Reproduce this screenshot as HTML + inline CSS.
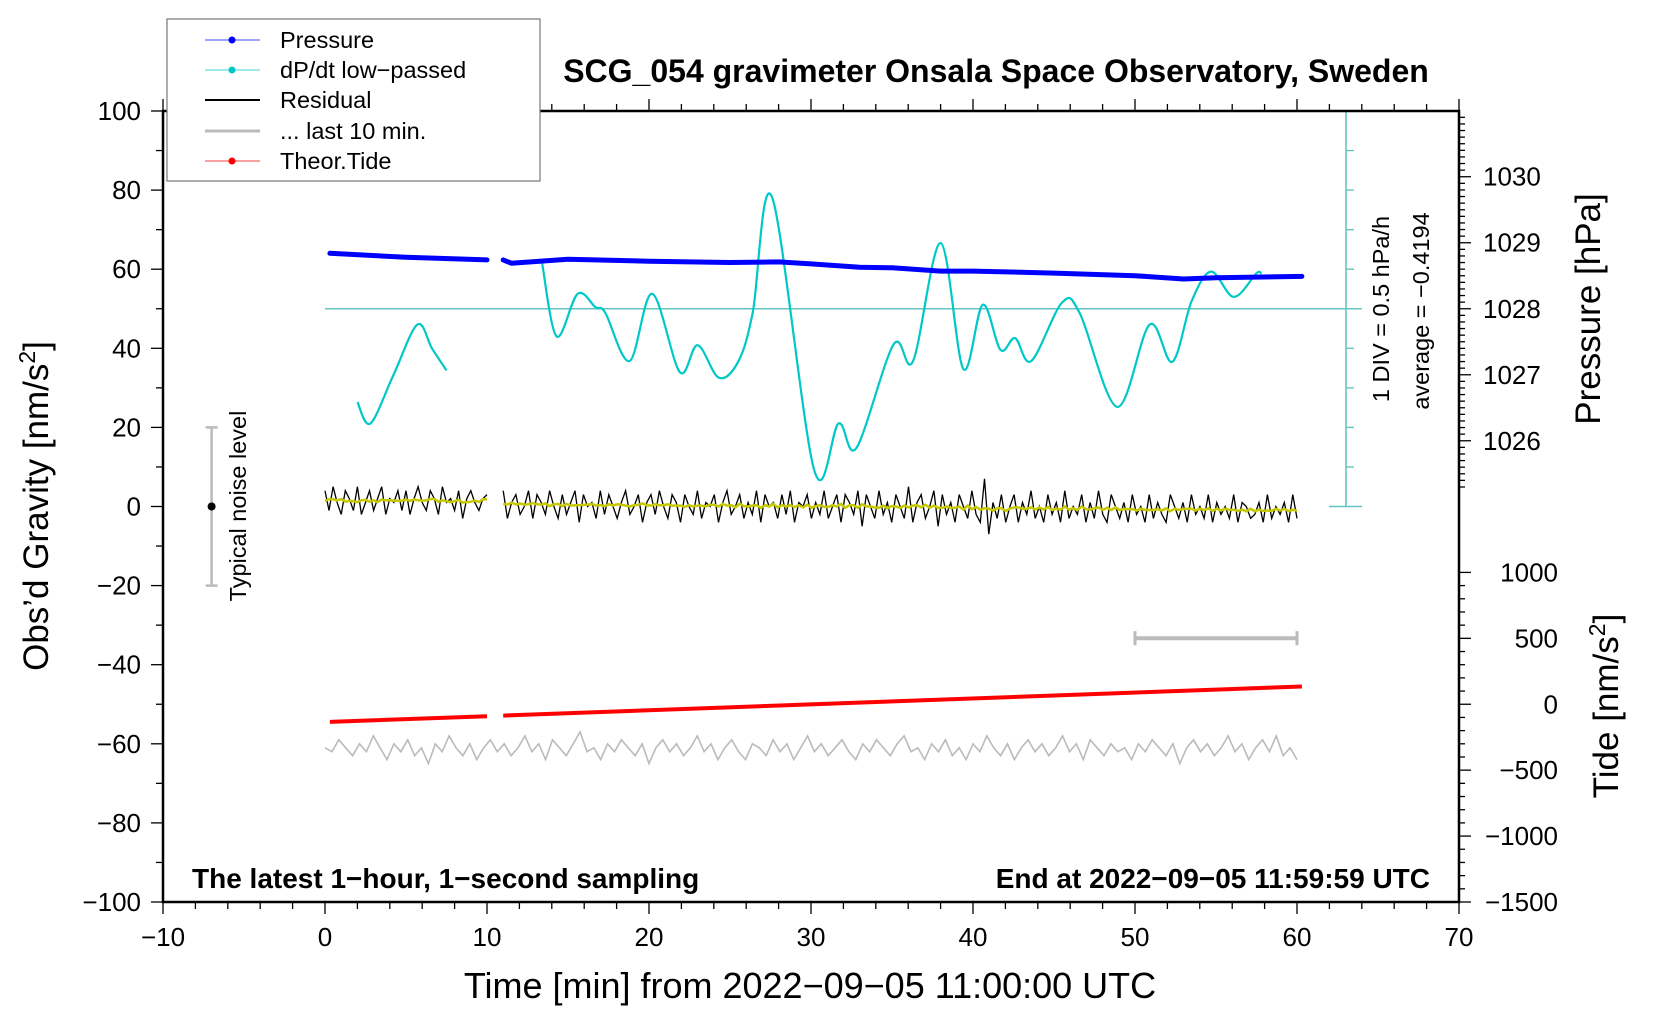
<!DOCTYPE html>
<html><head><meta charset="utf-8">
<style>
html,body{margin:0;padding:0;background:#fff;}
svg{display:block;font-family:"Liberation Sans",sans-serif;}
</style></head>
<body>
<svg id="chart" width="1660" height="1020" viewBox="0 0 1660 1020" xmlns="http://www.w3.org/2000/svg">
<rect width="1660" height="1020" fill="#fff"/>
<g id="marks"></g>
<g id="axes"></g>
<text x="996" y="82" font-size="32" font-weight="bold" text-anchor="middle">SCG_054 gravimeter Onsala Space Observatory, Sweden</text>
<text x="192" y="888" font-size="28" font-weight="bold">The latest 1−hour, 1−second sampling</text>
<text x="1430" y="888" font-size="28" font-weight="bold" text-anchor="end">End at 2022−09−05 11:59:59 UTC</text>
<text x="810" y="998" font-size="36" text-anchor="middle">Time [min] from 2022−09−05 11:00:00 UTC</text>
<text transform="translate(48,506) rotate(-90)" font-size="35" text-anchor="middle">Obs’d Gravity [nm/s<tspan font-size="23" dy="-13">2</tspan><tspan dy="13">]</tspan></text>
<text transform="translate(1600,309) rotate(-90)" font-size="35" text-anchor="middle">Pressure [hPa]</text>
<text transform="translate(1618,706) rotate(-90)" font-size="35" text-anchor="middle">Tide [nm/s<tspan font-size="23" dy="-13">2</tspan><tspan dy="13">]</tspan></text>
<text transform="translate(1389,309) rotate(-90)" font-size="23.5" text-anchor="middle">1 DIV = 0.5 hPa/h</text>
<text transform="translate(1429,311) rotate(-90)" font-size="23.5" text-anchor="middle">average = −0.4194</text>
<text transform="translate(246,506) rotate(-90)" font-size="23.5" text-anchor="middle">Typical noise level</text>
<g>
<rect x="167" y="19" width="373" height="162" fill="#fff" stroke="#777" stroke-width="1.2"/>
<g><line x1="205" y1="40" x2="260" y2="40" stroke="#00f" stroke-width="0.8"/><circle cx="232" cy="40" r="3.5" fill="#00f"/><text x="280" y="48" font-size="23.5">Pressure</text></g>
<g><line x1="205" y1="70" x2="260" y2="70" stroke="#00c8c8" stroke-width="0.8"/><circle cx="232" cy="70" r="3.5" fill="#00c8c8"/><text x="280" y="78" font-size="23.5">dP/dt low−passed</text></g>
<g><line x1="205" y1="100" x2="260" y2="100" stroke="#000" stroke-width="2"/><text x="280" y="108" font-size="23.5">Residual</text></g>
<g><line x1="205" y1="131" x2="260" y2="131" stroke="#bbb" stroke-width="3"/><text x="280" y="139" font-size="23.5">... last 10 min.</text></g>
<g><line x1="205" y1="161" x2="260" y2="161" stroke="#f00" stroke-width="0.8"/><circle cx="232" cy="161" r="3.5" fill="#f00"/><text x="280" y="169" font-size="23.5">Theor.Tide</text></g>
</g>
</svg>
<script>
// ---- data ----
const xTicks=[-10,0,10,20,30,40,50,60,70];
const yTicks=[100,80,60,40,20,0,-20,-40,-60,-80,-100];
const pTicks=[1030,1029,1028,1027,1026];
const tideTicks=[1000,500,0,-500,-1000,-1500];
const pressT=[0.3,5,10,11,11.5,15,20,25,28,30,33,35,38,40,45,50,53,55,60.3];
const pressV=[1028.84,1028.78,1028.74,1028.74,1028.69,1028.75,1028.72,1028.70,1028.71,1028.68,1028.63,1028.62,1028.57,1028.57,1028.54,1028.50,1028.45,1028.47,1028.49];
const dpT1=[2,2.8,4.2,5.7,6.6,7.5];
const dpV1=[-1.60,-1.87,-1.27,-0.62,-0.92,-1.20];
const dpT2=[13.4,14.3,15.6,16.7,17.3,18.8,20.2,21.9,23,24.3,25.5,26.4,27.6,30.2,31.7,32.8,35.1,36.3,38,39.4,40.6,41.7,42.6,43.6,45.5,46.6,48.9,50.9,52.3,53.5,54.7,56.1,57.5,57.8];
const dpV2=[0.16,-0.77,-0.23,-0.40,-0.47,-1.08,-0.23,-1.22,-0.88,-1.29,-1.09,-0.47,0.99,-2.46,-1.87,-2.18,-0.87,-1.08,0.41,-1.18,-0.37,-0.94,-0.79,-1.08,-0.34,-0.48,-1.66,-0.62,-1.09,-0.32,0.05,-0.27,0.03,0.02];
const dpAvg=-0.4194;
const resRangeA=[0,10];
const resA=[3,-2,4,0,-3,3,1,-2,4,-3,0,3,-2,1,4,-3,1,0,3,-2,3,-3,1,4,0,-2,3,1,-3,4,0,1,-2,3,-4,1,3,0,-2,1,2];
const resRangeB=[11,60];
const resB=[4,-3,1,3,-2,0,4,-3,3,1,-2,4,0,-3,3,-2,1,4,-4,3,0,1,-3,4,-2,3,0,-3,1,4,-2,0,3,-4,1,3,-2,4,0,-3,
3,1,-4,3,0,-2,4,-3,1,0,3,-4,1,4,-2,0,3,-3,1,-2,4,-4,3,0,1,-3,3,-2,4,-4,1,0,3,-3,1,-2,4,-3,0,3,
-4,3,1,-2,4,-5,3,0,-3,4,-2,1,-4,3,0,-3,5,-4,1,3,-3,0,4,-5,3,-2,1,-4,3,0,-3,4,-2,-4,7,-7,1,-3,3,-4,
0,3,-4,1,-2,4,-3,0,-4,3,-2,1,-4,4,-3,0,-2,3,-4,1,-3,4,-2,-4,3,0,-3,1,-4,3,-2,0,-4,3,-3,1,-2,-4,3,
0,-3,1,-4,3,-2,0,-3,3,-4,1,-2,0,-3,3,-4,1,0,-3,-2,1,-4,3,-3,0,-2,1,-4,3,-3];
const lastRange=[0,60];
const lastV=[-61,-62,-59,-61,-63,-60,-62,-58,-61,-64,-60,-62,-59,-63,-61,-65,-60,-62,-58,-61,-63,-60,-64,-61,-59,-62,-60,-63,-61,-58,
-62,-60,-64,-59,-61,-63,-60,-57,-62,-61,-64,-60,-62,-59,-61,-63,-60,-65,-61,-59,-62,-60,-63,-61,-58,-62,-60,-64,-61,-59,
-62,-64,-60,-61,-63,-59,-62,-60,-64,-61,-58,-62,-60,-63,-61,-59,-62,-64,-60,-62,-59,-61,-63,-60,-58,-62,-61,-64,-60,-62,
-59,-63,-61,-64,-60,-62,-58,-61,-63,-60,-64,-61,-59,-62,-60,-63,-61,-58,-62,-60,-64,-59,-61,-63,-60,-62,-61,-64,-60,-62,
-59,-61,-63,-60,-65,-61,-59,-62,-60,-63,-61,-58,-62,-60,-64,-61,-59,-62,-58,-63,-61,-64];
const tideT1=[0.3,10], tideV1=[-134,-91];
const tideT2=[11,60.3], tideV2=[-86,135];
const noiseBar=[-7,-20,20];
const scaleBar=[50,60,-33.3];

// ---- axes functions ----
const X=t=>163+(t+10)*16.2;
const Y=g=>111+(100-g)*3.955;
const pToG=p=>50+(p-1028)*16.69;
const dpToG=v=>50+(v-dpAvg)/0.05;
const tideToG=v=>-50+v/30;
const NS='http://www.w3.org/2000/svg';
const marks=document.getElementById('marks'), axes=document.getElementById('axes');
function mk(tag,attrs,parent){const e=document.createElementNS(NS,tag);for(const k in attrs)e.setAttribute(k,attrs[k]);(parent||marks).appendChild(e);return e;}
function poly(pts){return pts.map(p=>p[0].toFixed(1)+','+p[1].toFixed(1)).join(' ');}
function smooth(pts){let d='M'+pts[0][0]+','+pts[0][1];for(let i=0;i<pts.length-1;i++){const p0=pts[Math.max(0,i-1)],p1=pts[i],p2=pts[i+1],p3=pts[Math.min(pts.length-1,i+2)];
d+=' C'+(p1[0]+(p2[0]-p0[0])/6).toFixed(1)+','+(p1[1]+(p2[1]-p0[1])/6).toFixed(1)+' '+(p2[0]-(p3[0]-p1[0])/6).toFixed(1)+','+(p2[1]-(p3[1]-p1[1])/6).toFixed(1)+' '+p2[0].toFixed(1)+','+p2[1].toFixed(1);}return d;}

let e;
e=mk('line',{x1:X(0),y1:Y(50),x2:1362,y2:Y(50),stroke:'#66c4c0','stroke-width':1.6});


e=mk('line',{x1:1346,y1:Y(100),x2:1346,y2:Y(0),stroke:'#66c4c0','stroke-width':1.6});


for(let g=0;g<=100;g+=10){const cap=(g===0||g===100);const t=mk('line',{x1:cap?1329:1346,y1:Y(g),x2:cap?1362:1354,y2:Y(g),stroke:'#66c4c0','stroke-width':1.4});

}

[[tideT1,tideV1],[tideT2,tideV2]].forEach(([T,V])=>{const l=mk('polyline',{points:poly(T.map((t,i)=>[X(t),Y(tideToG(V[i]))])),fill:'none',stroke:'#f00','stroke-width':4});

});

{const n=lastV.length;const pts=lastV.map((v,i)=>[X(lastRange[0]+(lastRange[1]-lastRange[0])*i/(n-1)),Y(v)]);
const l=mk('polyline',{points:poly(pts),fill:'none',stroke:'#bbb','stroke-width':1.6});

}

[[resRangeA,resA,1],[resRangeB,resB,0]].forEach(([R,V,off])=>{const n=V.length;const pts=V.map((v,i)=>[X(R[0]+(R[1]-R[0])*i/(n-1)),Y(v+off)]);
const l=mk('polyline',{points:poly(pts),fill:'none',stroke:'#000','stroke-width':1.3});


const sm=V.map((v,i)=>{let s=0,c=0;for(let k=i-4;k<=i+4;k++)if(k>=0&&k<n){s+=V[k];c++;}return [pts[i][0],Y(s/c+off)];});
const y=mk('polyline',{points:poly(sm),fill:'none',stroke:'#c8c800','stroke-width':2.5});

});

[[dpT1,dpV1],[dpT2,dpV2]].forEach(([T,V])=>{const p=mk('path',{d:smooth(T.map((t,i)=>[X(t),Y(dpToG(V[i]))])),fill:'none',stroke:'#00c8c8','stroke-width':2.2});

});

[[0,3],[3,pressT.length]].forEach(([a,b])=>{const pts=[];for(let i=a;i<b;i++)pts.push([X(pressT[i]),Y(pToG(pressV[i]))]);
const l=mk('polyline',{points:poly(pts),fill:'none',stroke:'#00f','stroke-width':5,'stroke-linecap':'round','stroke-linejoin':'round'});

});

{const x=X(noiseBar[0]);const g=mk('g',{stroke:'#bbb','stroke-width':2.5});


mk('line',{x1:x,y1:Y(noiseBar[2]),x2:x,y2:Y(noiseBar[1])},g);
mk('line',{x1:x-6,y1:Y(noiseBar[2]),x2:x+6,y2:Y(noiseBar[2])},g);
mk('line',{x1:x-6,y1:Y(noiseBar[1]),x2:x+6,y2:Y(noiseBar[1])},g);
mk('circle',{cx:x,cy:Y(0),r:4,fill:'#000',stroke:'none'},g);}
{const g=mk('g',{stroke:'#bbb','stroke-width':4});


const y=Y(scaleBar[2]);
mk('line',{x1:X(scaleBar[0]),y1:y,x2:X(scaleBar[1]),y2:y},g);
mk('line',{x1:X(scaleBar[0]),y1:y-7,x2:X(scaleBar[0]),y2:y+7,'stroke-width':3},g);
mk('line',{x1:X(scaleBar[1]),y1:y-7,x2:X(scaleBar[1]),y2:y+7,'stroke-width':3},g);}

e=mk('rect',{x:163,y:111,width:1296,height:791,fill:'none',stroke:'#000','stroke-width':2.5},axes);


for(let t=-10;t<=70;t+=2){const maj=t%10===0;
mk('line',{x1:X(t),y1:902,x2:X(t),y2:902+(maj?12:7),stroke:'#000','stroke-width':1.3},axes);
mk('line',{x1:X(t),y1:111,x2:X(t),y2:111-(maj?12:7),stroke:'#000','stroke-width':1.3},axes);}
xTicks.forEach(t=>{const l=mk('text',{x:X(t),y:946,'font-size':26,'text-anchor':'middle'},axes);l.textContent=(t<0?'−':'')+Math.abs(t);

});
for(let g=-100;g<=100;g+=10){const maj=g%20===0;mk('line',{x1:163,y1:Y(g),x2:163-(maj?12:7),y2:Y(g),stroke:'#000','stroke-width':1.3},axes);}
yTicks.forEach(g=>{const l=mk('text',{x:141,y:Y(g)+9,'font-size':26,'text-anchor':'end'},axes);l.textContent=(g<0?'−':'')+Math.abs(g);

});
for(let p=1025.3;p<=1030.99;p+=0.1){const g=pToG(p);if(g<0||g>100.1)continue;const maj=Math.abs(p-Math.round(p))<0.01;
mk('line',{x1:1459,y1:Y(g),x2:1459+(maj?12:6),y2:Y(g),stroke:'#000','stroke-width':1.3},axes);}
pTicks.forEach(p=>{const l=mk('text',{x:1483,y:Y(pToG(p))+9,'font-size':26},axes);l.textContent=p;

});
for(let v=-1500;v<=1000;v+=100){const g=tideToG(v);const maj=v%500===0;
mk('line',{x1:1459,y1:Y(g),x2:1459+(maj?12:6),y2:Y(g),stroke:'#000','stroke-width':1.3},axes);}
tideTicks.forEach(v=>{const l=mk('text',{x:1558,y:Y(tideToG(v))+9,'font-size':26,'text-anchor':'end'},axes);l.textContent=(v<0?'−':'')+Math.abs(v);

});
</script>
</body></html>
